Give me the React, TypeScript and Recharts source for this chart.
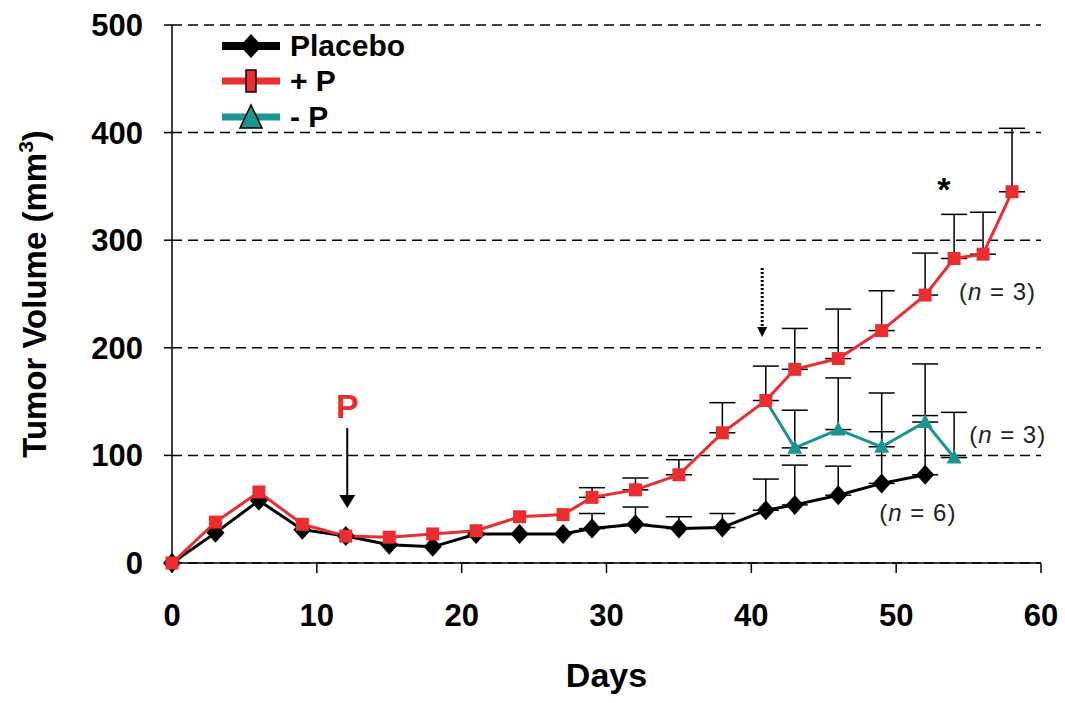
import {
  LineChart,
  Line,
  XAxis,
  YAxis,
  CartesianGrid,
  ErrorBar,
  Legend,
  ReferenceDot,
} from "recharts";

const FONT = "'Liberation Sans', Arial, sans-serif";
const RED = "#ec2d30";
const TEAL = "#1a9590";

const days = [0, 3, 6, 9, 12, 15, 18, 21, 24, 27, 29, 32, 35, 38, 41, 43, 46, 49, 52, 54, 56, 58];
const placebo = [0, 28, 58, 31, 25, 17, 15, 27, 27, 27, 32, 36, 32, 33, 49, 54, 63, 74, 82, null, null, null];
const placeboErr = [null, null, null, null, null, null, null, null, null, null, 14, 16, 11, 13, 29, 37, 27, 48, 55, null, null, null];
const plusP = [0, 38, 66, 36, 25, 24, 27, 30, 43, 45, 61, 68, 82, 121, 151, 180, 190, 216, 249, 283, 287, 345];
const plusPErr = [null, null, null, null, null, null, null, null, null, null, 9, 11, 14, 28, 32, 38, 46, 37, 39, 41, 39, 59];
const minusP = [null, null, null, null, null, null, null, null, null, null, null, null, null, null, 151, 107, 124, 108, 131, 98, null, null];
const minusPErr = [null, null, null, null, null, null, null, null, null, null, null, null, null, null, null, 35, 48, 50, 54, 42, null, null];

const seriesNames = ["Placebo", "+ P", "- P"];
const xTicks = [0, 10, 20, 30, 40, 50, 60];
const yTicks = [0, 100, 200, 300, 400, 500];

const data = days.map((day, i) => ({
  day,
  placebo: placebo[i],
  placeboErr: placeboErr[i] == null ? null : [0, placeboErr[i]],
  plusP: plusP[i],
  plusPErr: plusPErr[i] == null ? null : [0, plusPErr[i]],
  minusP: minusP[i],
  minusPErr: minusPErr[i] == null ? null : [0, minusPErr[i]],
}));

const Diamond = (p: any) => {
  if (p.cx == null || p.cy == null) return <g key={p.key ?? p.index} />;
  const { cx, cy } = p;
  return (
    <path
      key={p.key ?? p.index}
      d={`M${cx},${cy - 10} L${cx + 9},${cy} L${cx},${cy + 10} L${cx - 9},${cy} Z`}
      fill="#000"
    />
  );
};

const Square = (p: any) => {
  if (p.cx == null || p.cy == null) return <g key={p.key ?? p.index} />;
  return <rect key={p.key ?? p.index} x={p.cx - 6.5} y={p.cy - 6.5} width={13} height={13} fill={RED} />;
};

const Triangle = (p: any) => {
  if (p.cx == null || p.cy == null || p.payload?.day === 41) return <g key={p.key ?? p.index} />;
  const { cx, cy } = p;
  return (
    <path
      key={p.key ?? p.index}
      d={`M${cx},${cy - 8} L${cx + 7.5},${cy + 6} L${cx - 7.5},${cy + 6} Z`}
      fill={TEAL}
    />
  );
};

const legendIcons = [
  <g>
    <line x1={7} y1={18} x2={65} y2={18} stroke="#000" strokeWidth={8} />
    <path d="M36,6 L47,18 L36,30 L25,18 Z" fill="#000" />
  </g>,
  <g>
    <line x1={7} y1={18} x2={65} y2={18} stroke={RED} strokeWidth={7} />
    <rect x={31} y={7} width={10} height={22} fill={RED} stroke="#000" strokeWidth={1.5} />
  </g>,
  <g>
    <line x1={7} y1={18} x2={65} y2={18} stroke={TEAL} strokeWidth={7} />
    <path d="M36,6 L47,29 L25,29 Z" fill={TEAL} stroke="#000" strokeWidth={1.5} />
  </g>,
];

const LegendContent = () => (
  <div style={{ fontFamily: FONT, fontWeight: "bold", fontSize: 30, color: "#000" }}>
    {seriesNames.map((name, i) => (
      <div key={name} style={{ display: "flex", alignItems: "center", height: 35.5 }}>
        <svg width={75} height={36}>{legendIcons[i]}</svg>
        <span style={{ lineHeight: "30px" }}>{name}</span>
      </div>
    ))}
  </div>
);

const PArrow = (p: any) => {
  const { cx, cy } = p;
  return (
    <g>
      <line x1={cx} y1={cy - 80} x2={cx} y2={cy - 12} stroke="#000" strokeWidth={2} />
      <path d={`M${cx - 8},${cy - 13} L${cx + 8},${cy - 13} L${cx},${cy} Z`} fill="#000" />
      <text x={cx} y={cy - 90} textAnchor="middle" fontFamily={FONT} fontWeight="bold" fontSize={34} fill={RED}>
        P
      </text>
    </g>
  );
};

const DottedArrow = (p: any) => {
  const { cx, cy } = p;
  return (
    <g>
      <line x1={cx} y1={cy - 69} x2={cx} y2={cy - 9} stroke="#000" strokeWidth={3} strokeDasharray="2 2" />
      <path d={`M${cx - 5},${cy - 10} L${cx + 5},${cy - 10} L${cx},${cy} Z`} fill="#000" />
    </g>
  );
};

const Star = (p: any) => (
  <text x={p.cx} y={p.cy + 19} textAnchor="middle" fontFamily={FONT} fontWeight="bold" fontSize={34} fill="#000">
    *
  </text>
);

const nLabel = (n: number) => (p: any) => (
  <text
    x={p.cx}
    y={p.cy}
    dy="0.36em"
    textAnchor="middle"
    fontFamily={FONT}
    fontSize={24}
    letterSpacing={1}
    fill="#222"
  >
    (<tspan fontStyle="italic">n</tspan> = {n})
  </text>
);

const YLabel = (props: any) => {
  const vb = props.viewBox;
  const x = 46;
  const y = vb.y + vb.height / 2;
  return (
    <text
      x={x}
      y={y}
      transform={`rotate(-90, ${x}, ${y})`}
      textAnchor="middle"
      fontFamily={FONT}
      fontWeight="bold"
      fontSize={33}
      fill="#000"
    >
      Tumor Volume (mm<tspan dy={-13} fontSize={21}>3</tspan>
      <tspan dy={13}>)</tspan>
    </text>
  );
};

const XLabel = (props: any) => {
  const vb = props.viewBox;
  return (
    <text
      x={vb.x + vb.width / 2}
      y={vb.y + 124}
      textAnchor="middle"
      fontFamily={FONT}
      fontWeight="bold"
      fontSize={34}
      fill="#000"
    >
      Days
    </text>
  );
};

const tickStyle = { fontFamily: FONT, fontWeight: "bold", fontSize: 31, fill: "#000" };

export default function App() {
  return (
    <div style={{ position: "absolute", left: 0, top: 0, background: "#fff" }}>
      <LineChart width={1065} height={703} data={data} margin={{ top: 25, right: 24, bottom: 0, left: 0 }}>
        <CartesianGrid vertical={false} stroke="#000" strokeDasharray="10 6" strokeWidth={1.5} />
        <XAxis
          dataKey="day"
          type="number"
          domain={[0, 60]}
          ticks={xTicks}
          height={140}
          tickSize={10}
          tickMargin={31}
          stroke="#000"
          strokeWidth={1.5}
          tick={tickStyle}
          label={<XLabel />}
        />
        <YAxis
          type="number"
          domain={[0, 500]}
          ticks={yTicks}
          width={172}
          tickSize={8}
          tickMargin={21}
          stroke="#000"
          strokeWidth={1.5}
          tick={tickStyle}
          label={<YLabel />}
        />
        <Legend
          layout="vertical"
          align="center"
          verticalAlign="middle"
          content={<LegendContent />}
          wrapperStyle={{ left: 215, top: 28, width: 260 }}
        />
        <Line
          dataKey="placebo"
          name={seriesNames[0]}
          stroke="#000"
          strokeWidth={3}
          dot={Diamond}
          activeDot={false}
          isAnimationActive={false}
        >
          <ErrorBar dataKey="placeboErr" direction="y" width={13} stroke="#000" strokeWidth={1.5} />
        </Line>
        <Line
          dataKey="minusP"
          name={seriesNames[2]}
          stroke={TEAL}
          strokeWidth={3}
          dot={Triangle}
          activeDot={false}
          isAnimationActive={false}
        >
          <ErrorBar dataKey="minusPErr" direction="y" width={13} stroke="#000" strokeWidth={1.5} />
        </Line>
        <Line
          dataKey="plusP"
          name={seriesNames[1]}
          stroke={RED}
          strokeWidth={3}
          dot={Square}
          activeDot={false}
          isAnimationActive={false}
        >
          <ErrorBar dataKey="plusPErr" direction="y" width={13} stroke="#000" strokeWidth={1.5} />
        </Line>
        <ReferenceDot x={12.1} y={51} r={0} shape={PArrow} />
        <ReferenceDot x={40.75} y={210} r={0} shape={DottedArrow} />
        <ReferenceDot x={53.3} y={354} r={0} shape={Star} />
        <ReferenceDot x={57.0} y={252} r={0} shape={nLabel(3)} />
        <ReferenceDot x={57.7} y={120} r={0} shape={nLabel(3)} />
        <ReferenceDot x={51.5} y={47} r={0} shape={nLabel(6)} />
      </LineChart>
    </div>
  );
}
